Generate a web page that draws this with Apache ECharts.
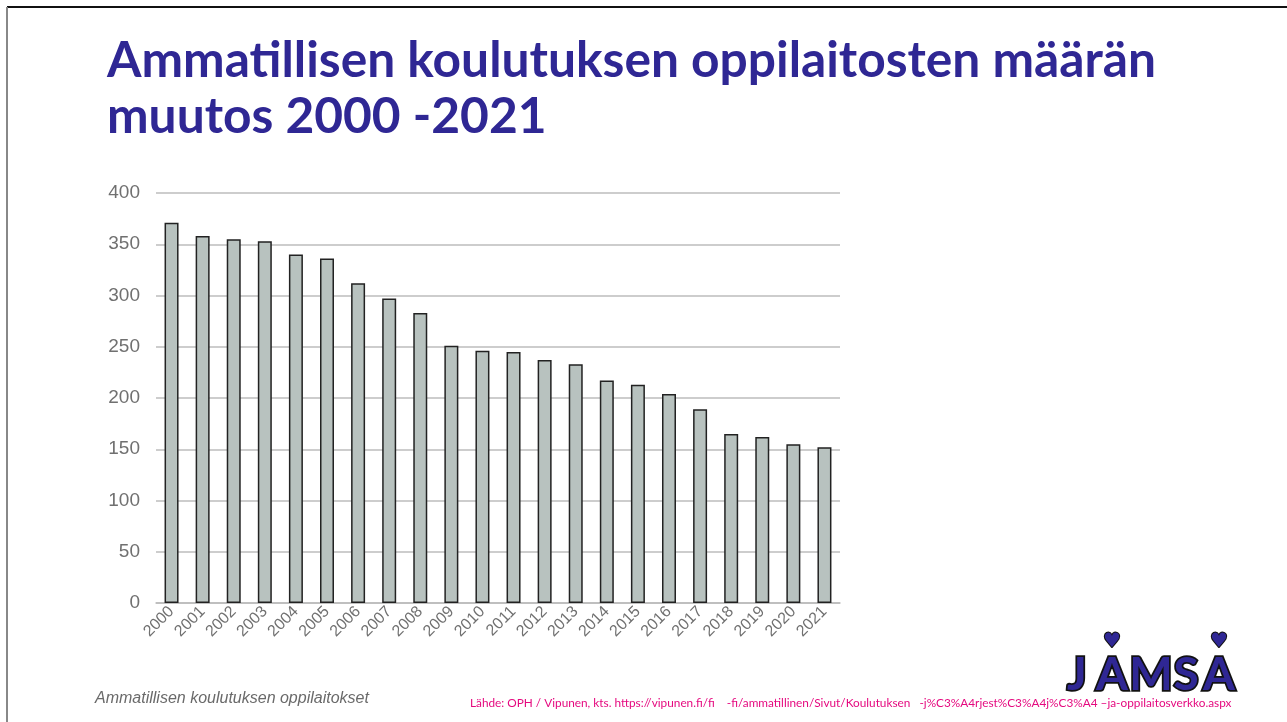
<!DOCTYPE html>
<html>
<head>
<meta charset="utf-8">
<style>
  html, body { margin: 0; padding: 0; background: #fff; }
  #chart { width: 1287px; height: 722px; }
</style>
<script src="https://cdn.jsdelivr.net/npm/echarts@6/dist/echarts.min.js"></script>
</head>
<body>
<div id="chart"></div>
<script>
// vuodet ja oppilaitosten määrä
const years = ['2000', '2001', '2002', '2003', '2004', '2005', '2006', '2007', '2008', '2009', '2010',
  '2011', '2012', '2013', '2014', '2015', '2016', '2017', '2018', '2019', '2020', '2021']
const schools = [371, 358, 355, 353, 340, 336, 312, 297, 283, 251, 246,
  245, 237, 233, 217, 213, 204, 189, 165, 162, 155, 152]
const yTicks = [0, 50, 100, 150, 200, 250, 300, 350, 400]

const titleLines = ['Ammatillisen koulutuksen oppilaitosten määrän', 'muutos 2000 -2021']
const caption = 'Ammatillisen koulutuksen oppilaitokset'
const source = 'Lähde: OPH / Vipunen, kts. https://vipunen.fi/fi    -fi/ammatillinen/Sivut/Koulutuksen   -j%C3%A4rjest%C3%A4j%C3%A4 \u2013ja-oppilaitosverkko.aspx'

const purple = '#2f2794'

// logo kirjaimet erikseen, jotta väli osuu kohdalleen
const logoLetters = [['J', 1077], ['A', 1112], ['M', 1151], ['S', 1186], ['A', 1219]]
const logo = logoLetters.map(l => ({
  type: 'text', x: l[1], y: 652,
  style: {
    text: l[0], fontFamily: 'Lato', fontWeight: 'bold', fontSize: 46,
    fill: purple, stroke: '#111', lineWidth: 3.5,
    align: 'center', verticalAlign: 'top'
  }
}))
const hearts = [1112, 1219].map(x => ({
  type: 'text', x: x, y: 642,
  style: {
    text: '\u2665', fontFamily: 'DejaVu Sans', fontSize: 20,
    fill: purple, stroke: '#111', lineWidth: 2,
    align: 'center', verticalAlign: 'middle'
  }
}))

const chart = echarts.init(document.getElementById('chart'))
chart.setOption({
  animation: false,
  backgroundColor: '#fff',
  grid: { left: 156, right: 447, top: 193, bottom: 119 },
  xAxis: {
    type: 'category',
    data: years,
    axisTick: { show: false },
    axisLine: { lineStyle: { color: '#bbb', width: 1.5 } },
    axisLabel: {
      rotate: 45, color: '#707070', fontSize: 16,
      fontFamily: 'Liberation Sans', margin: 6, interval: 0
    }
  },
  yAxis: {
    type: 'value',
    min: 0, max: 400, interval: 50,
    axisLine: { show: false },
    axisTick: { show: false },
    splitLine: { lineStyle: { color: '#bcbcbc', width: 1.5 } },
    axisLabel: {
      color: '#707070', fontSize: 19, fontFamily: 'Liberation Sans', margin: 16,
      formatter: v => yTicks.includes(v) ? String(v) : ''
    }
  },
  series: [{
    type: 'bar',
    data: schools,
    barWidth: '45%',
    itemStyle: { color: '#b8c2bf', borderColor: '#222', borderWidth: 1.5 }
  }],
  graphic: [
    // kehys
    { type: 'line', shape: { x1: 7, y1: 7, x2: 1287, y2: 7 }, style: { stroke: '#111', lineWidth: 2 } },
    { type: 'line', shape: { x1: 7, y1: 7, x2: 7, y2: 722 }, style: { stroke: '#888', lineWidth: 2 } },
    {
      type: 'text', x: 107, y: 36,
      style: {
        text: titleLines[0], fontFamily: 'Lato', fontWeight: 'bold', fontSize: 49.7,
        fill: purple, verticalAlign: 'top'
      }
    },
    {
      type: 'text', x: 107, y: 92,
      style: {
        text: titleLines[1], fontFamily: 'Lato', fontWeight: 'bold', fontSize: 49.7,
        fill: purple, verticalAlign: 'top'
      }
    },
    {
      type: 'text', x: 95, y: 699,
      style: {
        text: caption, fontFamily: 'Liberation Sans', fontStyle: 'italic', fontSize: 16,
        fill: '#6a6a6a', verticalAlign: 'middle'
      }
    },
    {
      type: 'text', x: 470, y: 703,
      style: {
        text: source, fontFamily: 'Lato', fontSize: 11.8,
        fill: '#e5097f', verticalAlign: 'middle'
      }
    }
  ].concat(logo, hearts)
})
</script>
</body>
</html>
